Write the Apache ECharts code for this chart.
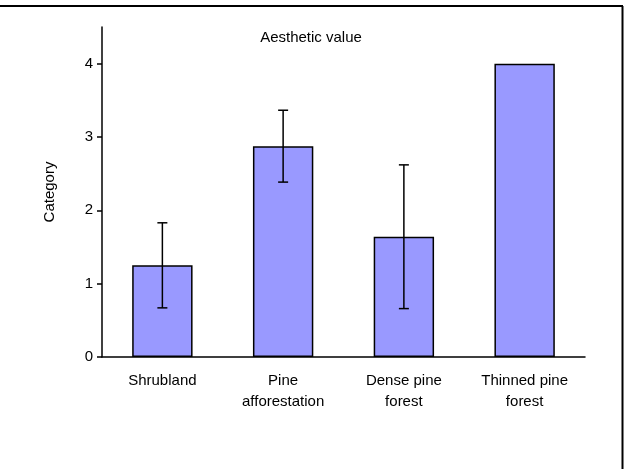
<!DOCTYPE html>
<html>
<head>
<meta charset="utf-8">
<script src="https://cdn.jsdelivr.net/npm/echarts@6/dist/echarts.min.js"></script>
<style>html,body{margin:0;padding:0;background:#fff}#c{width:624px;height:469px}</style>
</head>
<body>
<div id="c"></div>
<script>
const categories = ['Shrubland', 'Pine\nafforestation', 'Dense pine\nforest', 'Thinned pine\nforest'];
const values = [1.25, 2.875, 1.64, 4.0];
const errors = [0.58, 0.49, 0.98, 0];
const yTicks = [0, 1, 2, 3, 4];

const chart = echarts.init(document.getElementById('c'), null, {renderer: 'canvas'});
const font = 'Liberation Sans, Arial, sans-serif';
chart.setOption({
  animation: false,
  backgroundColor: '#fff',
  textStyle: {fontFamily: font},
  grid: {left: 102, right: 39, top: 27, bottom: 112},
  graphic: [
    {type: 'text', x: 311, y: 38, style: {text: 'Aesthetic value', fontFamily: font, fontSize: 15, fill: '#000', align: 'center', verticalAlign: 'middle'}},
    {type: 'line', shape: {x1: 0, y1: 6, x2: 623, y2: 6}, style: {stroke: '#000', lineWidth: 2}},
    {type: 'line', shape: {x1: 622.5, y1: 6, x2: 622.5, y2: 469}, style: {stroke: '#000', lineWidth: 2}}
  ],
  xAxis: {
    type: 'category',
    data: categories,
    axisLine: {lineStyle: {color: '#000', width: 1.5}},
    axisTick: {show: false},
    axisLabel: {color: '#000', fontSize: 15, margin: 13, lineHeight: 21, interval: 0, fontFamily: font}
  },
  yAxis: {
    type: 'value',
    min: 0, max: 4.5,
    name: 'Category',
    nameLocation: 'middle',
    nameGap: 45,
    nameTextStyle: {color: '#000', fontSize: 15, fontFamily: font},
    splitLine: {show: false},
    axisLine: {show: true, lineStyle: {color: '#000', width: 1.5}},
    axisTick: {show: true, length: 5, customValues: yTicks, lineStyle: {color: '#000', width: 1.5}},
    axisLabel: {color: '#000', fontSize: 15, margin: 9, customValues: yTicks, fontFamily: font}
  },
  series: [
    {
      type: 'bar',
      data: values,
      barWidth: '50%',
      itemStyle: {color: '#9999ff', borderColor: '#000', borderWidth: 1.5}
    },
    {
      type: 'custom',
      data: values.map((v, i) => [i, v - errors[i], v + errors[i]]),
      renderItem: function (params, api) {
        const i = api.value(0);
        if (errors[i] === 0) return null;
        const lo = api.coord([i, api.value(1)]);
        const hi = api.coord([i, api.value(2)]);
        const w = 5;
        const st = {stroke: '#000', lineWidth: 1.5};
        return {type: 'group', children: [
          {type: 'line', shape: {x1: hi[0], y1: hi[1], x2: lo[0], y2: lo[1]}, style: st},
          {type: 'line', shape: {x1: hi[0]-w, y1: hi[1], x2: hi[0]+w, y2: hi[1]}, style: st},
          {type: 'line', shape: {x1: lo[0]-w, y1: lo[1], x2: lo[0]+w, y2: lo[1]}, style: st}
        ]};
      },
      z: 10
    }
  ]
});
</script>
</body>
</html>
